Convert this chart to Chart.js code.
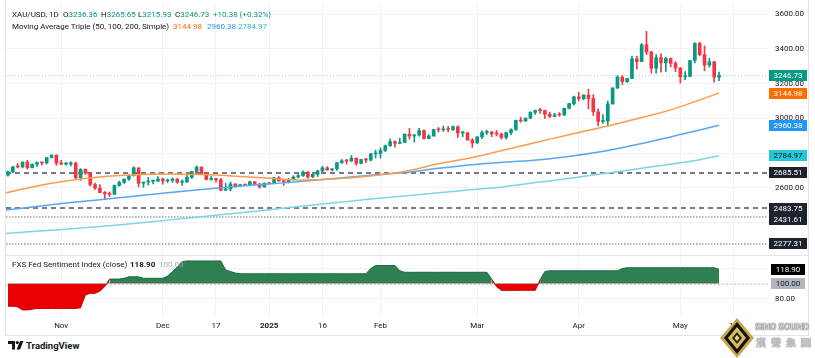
<!DOCTYPE html>
<html>
<head>
<meta charset="utf-8">
<script src="https://cdn.jsdelivr.net/npm/chart.js@4.4.1/dist/chart.umd.min.js"></script>
<style>
  html, body { margin:0; padding:0; background:#ffffff; }
  body { width:815px; height:358px; position:relative; overflow:hidden; font-family: Roboto, "Liberation Sans", Arial, sans-serif; }
  canvas { position:absolute; left:0; }
  #main { top:0; }
  #sub { top:256px; }
  .txt { position:absolute; white-space:pre; font-size:8px; line-height:10px; color:#131722; }
  .line { position:absolute; background:#e0e3eb; }
</style>
</head>
<body>
<canvas id="main" width="815" height="256"></canvas>
<canvas id="sub" width="815" height="80"></canvas>
<div id="legend"></div>
<div class="line" style="left:5px;top:0;width:1px;height:336px;"></div>
<div class="line" style="left:808px;top:0;width:1px;height:336px;"></div>
<div class="line" style="left:5px;top:335px;width:804px;height:1px;"></div>
<div class="line" style="left:5px;top:255px;width:804px;height:1px;"></div>
<svg style="position:absolute;left:8px;top:341px;" width="16" height="9" viewBox="0 0 16 9">
  <path d="M0 0H7V8.5H4V3H0Z" fill="#131722"/>
  <circle cx="9.3" cy="1.6" r="1.6" fill="#131722"/>
  <path d="M12 0H15.5L12 8.5H8.6Z" fill="#131722"/>
</svg>
<div class="txt" style="left:26px;top:340px;font-size:9.5px;line-height:11px;font-weight:bold;">TradingView</div>
<svg style="position:absolute;left:720px;top:318px;" width="34" height="40" viewBox="0 0 34 40">
  <polygon points="17,0 34,20 17,40 0,20" fill="#c8a651"/>
  <polygon points="17,4 30,20 17,36 4,20" fill="#15120c"/>
  <polygon points="17,9 26,20 17,31 8,20" fill="#d9bd63"/>
  <polygon points="17,14 22,20 17,26 12,20" fill="#2a2414"/>
  <polygon points="17,17 19.5,20 17,23 14.5,20" fill="#e8d48a"/>
</svg>
<div class="txt" style="left:755px;top:321px;font-size:9.5px;line-height:12px;font-weight:bold;letter-spacing:-0.2px;color:#d4d4d4;text-shadow:0 0 1px #555, 0 0 1px #555;">SINO SOUND</div>
<div class="txt" style="left:756px;top:337px;font-size:10px;line-height:12px;font-weight:bold;color:#c8c8c8;letter-spacing:5px;text-shadow:0 0 1px #666;">漢聲集團</div>
<script>
// ---------------- DATA ----------------
const dates = [
 '2024-10-17','2024-10-18','2024-10-21','2024-10-22','2024-10-23','2024-10-24','2024-10-25','2024-10-28','2024-10-29','2024-10-30','2024-10-31',
 '2024-11-01','2024-11-04','2024-11-05','2024-11-06','2024-11-07','2024-11-08','2024-11-11','2024-11-12','2024-11-13','2024-11-14','2024-11-15','2024-11-18','2024-11-19','2024-11-20','2024-11-21','2024-11-22','2024-11-25','2024-11-26','2024-11-27','2024-11-28','2024-11-29',
 '2024-12-02','2024-12-03','2024-12-04','2024-12-05','2024-12-06','2024-12-09','2024-12-10','2024-12-11','2024-12-12','2024-12-13','2024-12-16','2024-12-17','2024-12-18','2024-12-19','2024-12-20','2024-12-23','2024-12-24','2024-12-25','2024-12-26','2024-12-27','2024-12-30','2024-12-31',
 '2025-01-01','2025-01-02','2025-01-03','2025-01-06','2025-01-07','2025-01-08','2025-01-09','2025-01-10','2025-01-13','2025-01-14','2025-01-15','2025-01-16','2025-01-17','2025-01-20','2025-01-21','2025-01-22','2025-01-23','2025-01-24','2025-01-27','2025-01-28','2025-01-29','2025-01-30','2025-01-31',
 '2025-02-03','2025-02-04','2025-02-05','2025-02-06','2025-02-07','2025-02-10','2025-02-11','2025-02-12','2025-02-13','2025-02-14','2025-02-17','2025-02-18','2025-02-19','2025-02-20','2025-02-21','2025-02-24','2025-02-25','2025-02-26','2025-02-27','2025-02-28',
 '2025-03-03','2025-03-04','2025-03-05','2025-03-06','2025-03-07','2025-03-10','2025-03-11','2025-03-12','2025-03-13','2025-03-14','2025-03-17','2025-03-18','2025-03-19','2025-03-20','2025-03-21','2025-03-24','2025-03-25','2025-03-26','2025-03-27','2025-03-28','2025-03-31',
 '2025-04-01','2025-04-02','2025-04-03','2025-04-04','2025-04-07','2025-04-08','2025-04-09','2025-04-10','2025-04-11','2025-04-14','2025-04-15','2025-04-16','2025-04-17','2025-04-21','2025-04-22','2025-04-23','2025-04-24','2025-04-25','2025-04-28','2025-04-29','2025-04-30',
 '2025-05-01','2025-05-02','2025-05-05','2025-05-06','2025-05-07','2025-05-08','2025-05-09','2025-05-12','2025-05-13'
];
const futureDates = ['2025-05-14','2025-05-15','2025-05-16','2025-05-19','2025-05-20'];

const opens = [
 2673,2692,2721,2720,2748,2715,2736,2747,2743,2774,2788,
 2743,2736,2737,2742,2658,2706,2685,2619,2598,2573,2565,2563,2613,2631,2650,2670,2715,2626,2633,2637,2638,
 2651,2639,2643,2650,2632,2633,2660,2694,2718,2680,2648,2653,2646,2586,2593,2622,2612,2617,2616,2634,2621,2606,
 2625,2624,2658,2640,2635,2648,2662,2670,2690,2663,2677,2697,2715,2703,2708,2744,2755,2754,2770,2740,2763,2760,2795,
 2798,2815,2842,2866,2856,2861,2908,2898,2904,2929,2883,2898,2935,2933,2939,2935,2951,2915,2916,2875,
 2858,2893,2918,2920,2911,2910,2889,2917,2935,2988,2984,3001,3034,3046,3044,3023,3011,3020,3019,3057,3084,
 3123,3113,3134,3114,3037,2982,2984,3083,3175,3237,3211,3229,3342,3326,3423,3381,3288,3349,3319,3344,3316,
 3289,3238,3241,3333,3431,3366,3306,3325,3236.36
];
const highs = [
 2696,2722,2740,2749,2758,2737,2748,2749,2774,2790,2790,
 2758,2746,2750,2749,2710,2709,2687,2627,2618,2579,2576,2616,2639,2651,2674,2721,2715,2633,2660,2646,2665,
 2656,2651,2657,2655,2646,2676,2695,2726,2722,2690,2664,2654,2654,2626,2633,2624,2620,2619,2639,2637,2626,2629,
 2628,2660,2665,2642,2654,2670,2678,2697,2693,2679,2702,2724,2722,2711,2746,2763,2763,2786,2772,2764,2770,2799,2817,
 2830,2846,2882,2870,2886,2911,2942,2907,2942,2933,2906,2938,2947,2955,2954,2956,2956,2926,2920,2883,
 2894,2928,2930,2925,2930,2915,2921,2940,2990,3005,3002,3038,3047,3057,3047,3035,3029,3033,3059,3087,3128,
 3149,3135,3167,3136,3055,3022,3099,3175,3245,3245,3230,3358,3357,3430,3500,3386,3367,3371,3352,3347,3327,
 3292,3269,3333,3436,3438,3416,3345,3327,3265.65
];
const lows = [
 2667,2685,2714,2714,2708,2715,2723,2731,2737,2771,2730,
 2733,2730,2726,2652,2643,2677,2610,2590,2570,2536,2550,2560,2609,2625,2642,2667,2605,2603,2615,2622,2637,
 2621,2630,2631,2626,2614,2631,2653,2693,2677,2645,2643,2633,2583,2584,2583,2603,2609,2614,2616,2616,2597,2602,
 2622,2624,2638,2614,2628,2645,2657,2665,2656,2658,2665,2692,2700,2697,2700,2741,2736,2752,2730,2738,2745,2754,2772,
 2771,2808,2838,2834,2853,2860,2880,2864,2897,2880,2881,2897,2921,2925,2922,2930,2890,2895,2873,2832,
 2856,2882,2907,2894,2898,2880,2880,2906,2930,2977,2982,2998,3022,3028,2999,3004,3008,3012,3016,3056,3076,
 3100,3106,3054,3016,2956,2970,2957,3080,3170,3194,3206,3228,3283,3325,3367,3260,3260,3265,3269,3296,3268,
 3202,3222,3239,3318,3360,3274,3294,3208,3215.93
];
const closes = [
 2692,2721,2720,2748,2715,2736,2747,2743,2774,2788,2743,
 2736,2737,2742,2658,2706,2685,2619,2598,2573,2565,2563,2613,2631,2650,2670,2715,2626,2633,2637,2638,2651,
 2639,2643,2650,2632,2633,2660,2694,2718,2680,2648,2653,2646,2586,2593,2622,2612,2617,2616,2634,2621,2606,2625,
 2624,2658,2640,2635,2648,2662,2670,2690,2663,2677,2697,2715,2703,2708,2744,2755,2754,2770,2740,2763,2760,2795,2798,
 2815,2842,2866,2856,2861,2908,2898,2904,2929,2883,2898,2935,2933,2939,2935,2951,2915,2916,2875,2858,
 2893,2918,2920,2911,2910,2889,2917,2935,2988,2984,3001,3034,3046,3044,3023,3011,3020,3019,3057,3084,3123,
 3113,3134,3114,3037,2982,2984,3083,3175,3237,3211,3229,3342,3326,3423,3381,3288,3349,3319,3344,3316,3289,
 3238,3241,3333,3431,3366,3306,3325,3236.35,3246.73
];

// moving averages at sample bars (bar index = position in dates)
const maBars = [-1, 5, 12, 19, 26, 33, 40, 47, 54, 61, 68, 75, 82, 89, 96, 103, 110, 117, 124, 131, 138, 143, 147];
const ma50  = [2568,2605,2639,2662,2675,2680,2676,2667,2655,2645,2652,2668,2694,2738,2774,2820,2866,2912,2955,3004,3057,3106,3144.98];
const ma100 = [2470,2490,2512,2531,2552,2572,2590,2607,2622,2637,2655,2672,2688,2712,2733,2748,2762,2785,2815,2855,2900,2932,2960.38];
const ma200 = [2336,2348,2362,2377,2395,2414,2433,2453,2474,2495,2515,2535,2553,2571,2590,2608,2633,2658,2685,2712,2740,2762,2784.97];

const levelValues = [2685.51, 2483.75, 2431.61, 2277.31];

// FXS Fed Sentiment Index (close), one value per bar
const fedSentiment = [
 70,70,69,65,65,66,67,67,67,67,67,67,67,67,67,
 68,85,87,87,90,96,106,106,106,107,
 109,109,109,107,107,107,107,107,
 110,116,122,129,130,130,130,130,130,130,130,130,
 118,116,114,113,
 113,113,113,113,113,113,113,113,113,113,113,113,113,113,113,113,113,113,113,113,113,113,113,113,113,113,
 120,124,124,124,124,124,117,
 115,115,115,115,115,115,115,115,115,115,115,115,115,115,115,115,115,115,
 106,96,91,91,91,91,91,91,91,91,
 105,116,117,117,117,117,117,117,117,117,117,117,117,117,117,117,117,
 120,121,121,121,121,121,121,121,121,121,121,121,121,121,121,121,121,121,121,121,118.9
];
const fedBaseline = 100;

const priceTicks = [2400, 2600, 2800, 3000, 3200, 3400, 3600];
const fedTicks = [80, 100, 120];
const tickDates  = ['2024-11-01','2024-12-02','2024-12-17','2025-01-01','2025-01-16','2025-02-03','2025-03-03','2025-04-01','2025-05-01','2025-05-16'];
const tickLabels = ['Nov','Dec','17','2025','16','Feb','Mar','Apr','May','16'];

// ---------------- STYLE / SETUP ----------------
const GREEN = '#089981', RED = '#F23645';
const FONT = 'Roboto, "Liberation Sans", Arial, sans-serif';
const allDates = dates.concat(futureDates);
const tickIdx = tickDates.map(d => allDates.indexOf(d));
const n = dates.length;
const last = n - 1;
// pixel calibration of the panes (page pixels)
const BAR0_X = 8, BAR_STEP = 4.837;            // first bar centre, spacing
const MAIN_REF = { px: 14, val: 3600, ppu: 0.1738 };   // main pane: 3600 at y=14
const SUB_REF  = { px: 27.3, val: 100, ppu: 0.76 };    // sub pane (canvas y): 100 at y=27.3

const candleColor = dates.map((d, i) => closes[i] >= opens[i] ? GREEN : RED);
const wick = dates.map((d, i) => ({ x: i, y: [lows[i], highs[i]] }));
const body = dates.map((d, i) => ({ x: i, y: [opens[i], closes[i]] }));
const toPts = arr => arr.map((v, k) => ({ x: maBars[k], y: v }));

// legend text
(function () {
  const L = document.getElementById('legend');
  const chg = closes[last] - closes[last - 1];
  const pct = chg / closes[last - 1] * 100;
  const sgn = v => (v >= 0 ? '+' : '') + v.toFixed(2);
  const put = (x, y, html) => {
    const d = document.createElement('div');
    d.className = 'txt'; d.style.left = x + 'px'; d.style.top = y + 'px';
    d.innerHTML = html; L.appendChild(d);
  };
  const g = v => '<span style="color:' + GREEN + '">' + v + '</span>';
  put(12, 10, 'XAU/USD, 1D');
  put(63, 10, 'O' + g(opens[last].toFixed(2)));
  put(101, 10, 'H' + g(highs[last].toFixed(2)));
  put(138, 10, 'L' + g(lows[last].toFixed(2)));
  put(175, 10, 'C' + g(closes[last].toFixed(2)));
  put(213, 10, g(sgn(chg) + ' (' + sgn(pct) + '%)'));
  put(12, 22, 'Moving Average Triple (50, 100, 200, Simple)');
  put(173, 22, '<span style="color:#FF6D00">' + ma50[ma50.length - 1].toFixed(2) + '</span>');
  put(207, 22, '<span style="color:#2196F3">' + ma100[ma100.length - 1].toFixed(2) + '</span>');
  put(238, 22, '<span style="color:#22B8CC">' + ma200[ma200.length - 1].toFixed(2) + '</span>');
  put(12, 260, 'FXS Fed Sentiment Index (close)');
  put(130, 260, '<b>' + fedSentiment[last].toFixed(2) + '</b>');
  put(159, 260, '<span style="color:#a3a6af">' + fedBaseline.toFixed(2) + '</span>');
})();

function boxes(id, items) {
  return {
    id,
    afterDraw(chart) {
      const ctx = chart.ctx, ys = chart.scales.y, H = 11, CX = 788;
      const list = items.map(b => Object.assign({}, b, { py: ys.getPixelForValue(b.v) })).sort((a, b) => a.py - b.py);
      for (let k = 1; k < list.length; k++) if (list[k].py < list[k - 1].py + H) list[k].py = list[k - 1].py + H;
      ctx.save();
      ctx.font = '8px ' + FONT; ctx.textAlign = 'center'; ctx.textBaseline = 'middle';
      list.forEach(b => {
        const t = b.v.toFixed(2);
        const w = Math.round(ctx.measureText(t).width + 9);
        ctx.fillStyle = b.bg;
        ctx.fillRect(Math.round(CX - w / 2), Math.round(b.py - H / 2), w, H);
        ctx.fillStyle = b.fg;
        ctx.fillText(t, CX, b.py + 0.5);
      });
      ctx.restore();
    }
  };
}

const levelLines = {
  id: 'levels',
  beforeDatasetsDraw(chart) {
    const ctx = chart.ctx, ys = chart.scales.y, ca = chart.chartArea;
    const styles = [
      { dash: [5, 4], w: 2, c: '#787b86' },
      { dash: [5, 4], w: 2, c: '#787b86' },
      { dash: [1.5, 1.5], w: 1.5, c: '#9a9da6' },
      { dash: [1.5, 1.5], w: 1.5, c: '#9a9da6' }
    ];
    ctx.save();
    levelValues.forEach((v, k) => {
      const y = Math.round(ys.getPixelForValue(v));
      ctx.strokeStyle = styles[k].c; ctx.lineWidth = styles[k].w; ctx.setLineDash(styles[k].dash);
      ctx.beginPath(); ctx.moveTo(ca.left, y); ctx.lineTo(ca.right, y); ctx.stroke();
    });
    const yc = Math.round(ys.getPixelForValue(closes[last])) + 0.5;
    ctx.strokeStyle = 'rgba(8,153,129,0.35)'; ctx.lineWidth = 1; ctx.setLineDash([1, 2]);
    ctx.beginPath(); ctx.moveTo(ca.left, yc); ctx.lineTo(ca.right, yc); ctx.stroke();
    ctx.restore();
  }
};

const fedBaseLine = {
  id: 'fedbase',
  beforeDatasetsDraw(chart) {
    const ctx = chart.ctx, ys = chart.scales.y, ca = chart.chartArea;
    const y = Math.round(ys.getPixelForValue(fedBaseline)) + 0.5;
    ctx.save(); ctx.strokeStyle = '#c9ccd3'; ctx.lineWidth = 1; ctx.setLineDash([2, 2]);
    ctx.beginPath(); ctx.moveTo(ca.left, y); ctx.lineTo(ca.right, y); ctx.stroke(); ctx.restore();
  }
};

const GRID = '#f0f2f6';
const commonX = () => ({
  type: 'linear', min: -0.4, max: 157, offset: false,
  afterBuildTicks: s => { s.ticks = tickIdx.map(v => ({ value: v })); },
  grid: { color: GRID, drawTicks: false, offset: false },
  border: { display: false }
});

// align a chart's scales to the wanted pixel mapping once its chart area is known
function calibrate(chart, ref) {
  const ca = chart.chartArea;
  chart.options.scales.x.min = (ca.left - BAR0_X) / BAR_STEP;
  chart.options.scales.x.max = (ca.right - BAR0_X) / BAR_STEP;
  chart.options.scales.y.max = ref.val + (ref.px - ca.top) / ref.ppu;
  chart.options.scales.y.min = ref.val - (ca.bottom - ref.px) / ref.ppu;
  chart.update('none');
}

const mainChart = new Chart(document.getElementById('main'), {
  type: 'bar',
  data: {
    datasets: [
      { type: 'line', data: toPts(ma50), borderColor: '#FF9B4E', borderWidth: 1.5, pointRadius: 0, cubicInterpolationMode: 'monotone', order: 0 },
      { type: 'line', data: toPts(ma100), borderColor: '#58A6F0', borderWidth: 1.5, pointRadius: 0, cubicInterpolationMode: 'monotone', order: 0 },
      { type: 'line', data: toPts(ma200), borderColor: '#7DD5E2', borderWidth: 1.5, pointRadius: 0, cubicInterpolationMode: 'monotone', order: 0 },
      { type: 'bar', data: body, backgroundColor: candleColor, barThickness: 3, grouped: false, minBarLength: 1, borderWidth: 0, order: 1 },
      { type: 'bar', data: wick, backgroundColor: candleColor, barThickness: 1, grouped: false, borderWidth: 0, order: 2 }
    ]
  },
  options: {
    responsive: false, animation: false, events: [], devicePixelRatio: 1,
    layout: { padding: { left: 6, top: 4, right: 0, bottom: 1 } },
    plugins: { legend: { display: false }, tooltip: { enabled: false } },
    scales: {
      x: Object.assign(commonX(), { ticks: { display: false }, afterFit: s => { s.height = 0; s.paddingLeft = 0; s.paddingRight = 0; } }),
      y: {
        type: 'linear', position: 'right', min: 2215, max: 3657,
        afterBuildTicks: s => { s.ticks = priceTicks.map(v => ({ value: v })); },
        ticks: { padding: 7, autoSkip: false, color: '#131722', font: { size: 8, family: FONT }, callback: v => Number(v).toFixed(2) },
        grid: { color: GRID, drawTicks: false },
        border: { display: false },
        afterFit: s => { s.width = 47; s.paddingTop = 0; s.paddingBottom = 0; }
      }
    }
  },
  plugins: [levelLines, boxes('mainBoxes', [
    { v: closes[last], bg: GREEN, fg: '#ffffff' },
    { v: ma50[ma50.length - 1], bg: '#FF6D00', fg: '#ffffff' },
    { v: ma100[ma100.length - 1], bg: '#2196F3', fg: '#ffffff' },
    { v: ma200[ma200.length - 1], bg: '#26C6DA', fg: '#131722' },
    { v: levelValues[0], bg: '#1e222d', fg: '#ffffff' },
    { v: levelValues[1], bg: '#1e222d', fg: '#ffffff' },
    { v: levelValues[2], bg: '#1e222d', fg: '#ffffff' },
    { v: levelValues[3], bg: '#1e222d', fg: '#ffffff' }
  ])]
});
calibrate(mainChart, MAIN_REF);

const subChart = new Chart(document.getElementById('sub'), {
  type: 'line',
  data: {
    datasets: [{
      data: fedSentiment.map((v, i) => ({ x: i, y: v })),
      fill: { target: { value: fedBaseline }, above: 'rgb(46,128,80)', below: 'rgb(232,0,0)' },
      borderWidth: 1, borderColor: '#1c6a40', pointRadius: 0, tension: 0,
      segment: { borderColor: c => (c.p0.parsed.y < fedBaseline || c.p1.parsed.y < fedBaseline) ? '#c80000' : '#1c6a40' }
    }]
  },
  options: {
    responsive: false, animation: false, events: [], devicePixelRatio: 1,
    layout: { padding: { left: 6, top: 0, right: 0, bottom: 0 } },
    plugins: { legend: { display: false }, tooltip: { enabled: false } },
    scales: {
      x: Object.assign(commonX(), {
        ticks: {
          padding: 5, autoSkip: false, maxRotation: 0, color: '#131722',
          font: c => ({ size: 8, family: FONT, weight: (c.tick && c.tick.value === tickIdx[3]) ? 'bold' : 'normal' }),
          callback: v => tickLabels[tickIdx.indexOf(v)]
        },
        afterFit: s => { s.height = 20; s.paddingLeft = 0; s.paddingRight = 0; }
      }),
      y: {
        type: 'linear', position: 'right', min: 56, max: 136,
        afterBuildTicks: s => { s.ticks = fedTicks.map(v => ({ value: v })); },
        ticks: { padding: 7, autoSkip: false, color: '#131722', font: { size: 8, family: FONT }, callback: v => Number(v).toFixed(2) },
        grid: { color: GRID, drawTicks: false },
        border: { display: false },
        afterFit: s => { s.width = 47; s.paddingTop = 0; s.paddingBottom = 0; }
      }
    }
  },
  plugins: [fedBaseLine, boxes('subBoxes', [
    { v: fedSentiment[last], bg: '#000000', fg: '#ffffff' },
    { v: fedBaseline, bg: '#b2b5be', fg: '#131722' }
  ])]
});
calibrate(subChart, SUB_REF);
</script>
</body>
</html>
